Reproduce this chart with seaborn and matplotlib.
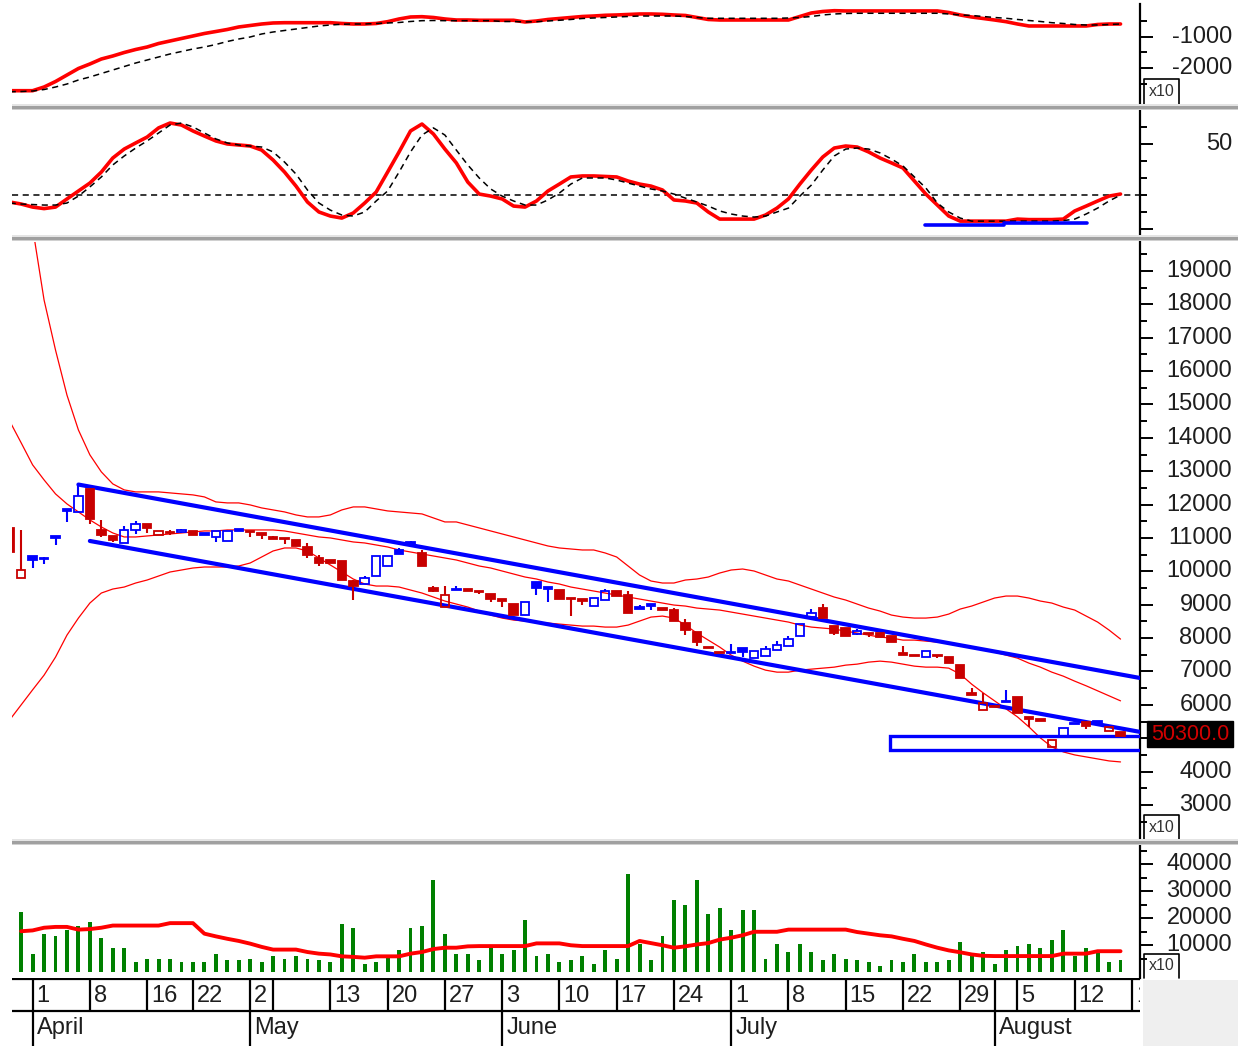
import numpy as np
import pandas as pd
import matplotlib
matplotlib.use("Agg")
import matplotlib.pyplot as plt
import matplotlib.transforms as mtrans
from matplotlib.patches import Rectangle
import seaborn as sns

# ---------------------------------------------------------------- data
day_index = list(range(-2, 96))          # trading-day index, 0 = 1 April

open_ = [11310, 9800, 10470, 10400, 11040, 11850, 11780, 12460, 11250, 11070,
         10840, 11250, 11420, 11090, 11180, 11190, 11220, 11120, 11040, 10910,
         11250, 11210, 11130, 10995, 10980, 10950, 10730, 10400, 10350, 10300,
         9700, 9630, 9870, 10150, 10650, 10850, 10550, 9500, 8930, 9460,
         9440, 9400, 9330, 9150, 9030, 8700, 9670, 9510, 9450, 9200,
         9160, 8970, 9150, 9400, 9300, 8910, 9000, 8900, 8830, 8450,
         8180, 7730, 7580, 7575, 7700, 7400, 7470, 7650, 7770, 8070,
         8630, 8900, 8350, 8300, 8130, 8150, 8150, 8050, 7530, 7490,
         7420, 7490, 7440, 7200, 6340, 5850, 5950, 6110, 6240, 5610,
         5560, 4740, 5030, 5450, 5490, 5490, 5220, 5200]
high_ = [11310, 11250, 10470, 10440, 11040, 11850, 12600, 12460, 11550, 11070,
         11360, 11510, 11420, 11210, 11250, 11260, 11220, 11120, 11210, 11210,
         11250, 11210, 11130, 11060, 10980, 10950, 10860, 10500, 10350, 10300,
         9750, 9850, 10450, 10470, 10700, 10920, 10650, 9550, 9570, 9560,
         9440, 9400, 9330, 9150, 9030, 9070, 9670, 9510, 9450, 9200,
         9160, 9200, 9470, 9400, 9400, 9000, 9000, 8900, 8900, 8560,
         8180, 7730, 7580, 7830, 7700, 7620, 7750, 7900, 8070, 8430,
         8870, 9030, 8350, 8300, 8260, 8150, 8150, 8050, 7750, 7490,
         7600, 7490, 7440, 7200, 6500, 6350, 5950, 6450, 6240, 5610,
         5560, 4950, 5310, 5450, 5490, 5490, 5340, 5200]
low_ = [10580, 9800, 10110, 10210, 10800, 11470, 11780, 11430, 11040, 10890,
        10840, 11130, 11160, 11090, 11100, 11150, 11090, 11110, 10890, 10910,
        11220, 11040, 10970, 10990, 10830, 10750, 10400, 10150, 10240, 9730,
        9150, 9630, 9870, 10150, 10530, 10830, 10150, 9380, 8930, 9450,
        9430, 9330, 9070, 8930, 8700, 8700, 9300, 9070, 9180, 8650,
        9000, 8970, 9150, 9270, 8750, 8900, 8830, 8840, 8500, 8100,
        7750, 7700, 7560, 7570, 7420, 7400, 7470, 7650, 7770, 8070,
        8630, 8600, 8100, 8050, 8100, 8030, 8040, 7870, 7510, 7470,
        7420, 7400, 7260, 6800, 6320, 5850, 5940, 6100, 5760, 5340,
        5540, 4740, 5030, 5420, 5280, 5430, 5220, 5060]
close_ = [10580, 10050, 10350, 10360, 11030, 11840, 12270, 11560, 11100, 10950,
          11250, 11430, 11290, 11210, 11150, 11220, 11100, 11110, 11210, 11210,
          11220, 11190, 11120, 10990, 10975, 10750, 10500, 10250, 10240, 9730,
          9570, 9800, 10450, 10470, 10530, 10840, 10150, 9420, 9300, 9450,
          9430, 9395, 9180, 9140, 8700, 9070, 9500, 9500, 9180, 9170,
          9100, 9200, 9400, 9270, 8750, 8900, 8990, 8840, 8500, 8250,
          7870, 7700, 7560, 7570, 7580, 7620, 7670, 7800, 7970, 8430,
          8750, 8600, 8150, 8050, 8200, 8140, 8040, 7870, 7510, 7470,
          7600, 7480, 7260, 6800, 6320, 6050, 5940, 6100, 5760, 5600,
          5540, 4950, 5310, 5420, 5370, 5480, 5340, 5060]

bb_index_upper = list(range(0, 96))
bb_upper = [20300, 18130, 16630, 15280, 14235, 13490, 12980, 12620, 12440, 12380,
            12380, 12380, 12350, 12320, 12290, 12230, 12080, 12050, 12050, 11990,
            11900, 11840, 11780, 11690, 11630, 11630, 11690, 11840, 11930, 11930,
            11870, 11810, 11780, 11750, 11720, 11600, 11480, 11480, 11390, 11300,
            11210, 11120, 11030, 10940, 10850, 10760, 10700, 10670, 10640, 10640,
            10550, 10430, 10160, 9890, 9710, 9650, 9650, 9740, 9770, 9830,
            9950, 10040, 10070, 10010, 9890, 9770, 9710, 9590, 9470, 9350,
            9230, 9140, 9020, 8900, 8810, 8690, 8630, 8600, 8600, 8630,
            8720, 8870, 8960, 9080, 9200, 9260, 9260, 9200, 9110, 9050,
            8930, 8840, 8660, 8480, 8240, 7970]
bb_mid = [14500, 13850, 13190, 12740, 12320, 12020, 11780, 11540, 11330, 11150,
          11030, 11030, 11060, 11090, 11120, 11150, 11180, 11210, 11210, 11240,
          11240, 11240, 11240, 11240, 11210, 11150, 11090, 11030, 11000, 10940,
          10880, 10850, 10790, 10730, 10640, 10580, 10520, 10460, 10400, 10340,
          10250, 10160, 10100, 10010, 9920, 9830, 9770, 9680, 9620, 9530,
          9470, 9410, 9350, 9290, 9230, 9170, 9110, 9050, 8990, 8960,
          8900, 8870, 8840, 8780, 8720, 8660, 8600, 8540, 8480, 8390,
          8330, 8300, 8270, 8210, 8150, 8090, 8030, 8000, 7940, 7940,
          7910, 7880, 7850, 7790, 7730, 7670, 7580, 7490, 7400, 7250,
          7130, 6980, 6860, 6710, 6570, 6420, 6270, 6120]
bb_lower = [5550, 6000, 6450, 6890, 7430, 8090, 8600, 9050, 9350, 9470,
            9530, 9650, 9740, 9860, 9980, 10040, 10100, 10130, 10130, 10130,
            10160, 10250, 10430, 10610, 10700, 10700, 10610, 10400, 10190, 9980,
            9770, 9620, 9560, 9560, 9530, 9440, 9350, 9230, 9110, 9020,
            8930, 8810, 8690, 8600, 8540, 8510, 8480, 8450, 8420, 8390,
            8360, 8360, 8330, 8330, 8390, 8510, 8630, 8660, 8600, 8390,
            8150, 7940, 7730, 7490, 7310, 7160, 7040, 6980, 6980, 7040,
            7070, 7100, 7130, 7190, 7220, 7280, 7310, 7280, 7220, 7160,
            7130, 7130, 7100, 6920, 6620, 6360, 6120, 5880, 5640, 5340,
            5010, 4740, 4590, 4500, 4440, 4380, 4320, 4290]

macd = [-2732, -2732, -2732, -2613, -2436, -2226, -2016, -1871, -1710, -1613,
        -1500, -1403, -1323, -1210, -1129, -1048, -968, -887, -823, -758,
        -677, -629, -581, -548, -539, -539, -539, -539, -539, -564,
        -581, -581, -564, -506, -419, -355, -345, -371, -419, -452,
        -452, -461, -461, -461, -461, -516, -484, -435, -403, -371,
        -339, -323, -300, -290, -274, -258, -258, -268, -290, -306,
        -371, -435, -452, -452, -452, -452, -452, -452, -452, -339,
        -226, -177, -152, -160, -160, -160, -160, -160, -160, -160,
        -160, -160, -210, -290, -355, -403, -452, -506, -581, -645,
        -645, -645, -645, -645, -645, -597, -581, -581]
macd_signal = [-2765, -2758, -2742, -2694, -2613, -2516, -2387, -2290, -2177, -2065,
               -1952, -1839, -1742, -1645, -1548, -1468, -1387, -1323, -1242, -1145,
               -1065, -1000, -903, -839, -790, -742, -694, -645, -613, -590,
               -581, -581, -564, -548, -532, -500, -474, -468, -474, -474,
               -474, -474, -474, -500, -500, -516, -506, -484, -461, -435,
               -403, -387, -371, -355, -339, -323, -323, -323, -323, -339,
               -371, -397, -397, -397, -397, -397, -397, -397, -387, -371,
               -339, -290, -258, -242, -235, -235, -235, -235, -235, -235,
               -235, -235, -258, -290, -306, -339, -371, -397, -435, -468,
               -500, -539, -564, -597, -613, -613, -597, -581]

stoch_k = [15.7, 14.5, 12.7, 11.8, 12.7, 17.5, 22.2, 26.9, 33.4, 41.7,
           47.0, 50.6, 54.1, 59.5, 62.4, 61.2, 57.7, 54.7, 51.8, 50.0,
           49.4, 48.8, 46.4, 40.5, 33.4, 25.1, 15.7, 9.8, 7.4, 6.2,
           9.2, 15.1, 21.6, 33.4, 45.3, 57.7, 61.8, 55.9, 47.0, 38.8,
           27.5, 20.4, 19.2, 17.5, 13.3, 12.7, 16.3, 22.2, 26.3, 30.5,
           31.1, 31.1, 30.8, 30.5, 28.1, 26.3, 25.1, 22.8, 16.9, 16.3,
           15.1, 9.8, 5.6, 5.6, 5.6, 5.6, 8.0, 12.1, 17.5, 26.3,
           34.6, 42.3, 47.6, 48.8, 48.2, 45.3, 41.7, 38.8, 35.8, 28.1,
           20.4, 13.9, 7.4, 4.4, 4.4, 4.4, 4.4, 4.4, 5.6, 5.3,
           5.3, 5.3, 5.6, 10.4, 13.3, 16.3, 19.2, 20.4]
stoch_d = [15.1, 14.5, 14.2, 13.9, 13.9, 15.1, 19.2, 24.6, 30.5, 37.6,
           42.9, 47.6, 51.8, 56.5, 61.2, 62.4, 60.1, 56.5, 53.0, 50.6,
           49.4, 48.8, 48.2, 45.3, 39.3, 32.2, 22.8, 15.1, 10.9, 8.0,
           7.4, 9.8, 16.3, 22.2, 33.4, 45.3, 55.3, 59.5, 55.3, 46.4,
           37.6, 29.9, 23.4, 19.2, 16.3, 13.9, 13.9, 16.9, 21.0, 26.3,
           29.9, 29.9, 29.9, 28.7, 26.9, 25.1, 23.4, 22.2, 20.4, 18.0,
           15.7, 13.3, 10.4, 8.6, 7.4, 6.8, 7.4, 9.8, 12.1, 19.2,
           25.7, 34.6, 42.9, 47.0, 47.6, 47.0, 44.7, 41.1, 37.0, 30.5,
           24.0, 15.1, 9.8, 6.2, 4.4, 4.4, 4.4, 4.4, 4.4, 4.4,
           4.4, 4.4, 4.7, 5.6, 8.6, 12.1, 16.3, 19.8]
stoch_level = 20

vol_index = list(range(-1, 96))
volume = [22100, 6500, 14000, 13200, 15400, 16900, 18500, 12500, 8800, 8800,
          3600, 5000, 5000, 5000, 3600, 3600, 3600, 6500, 4300, 4300,
          5000, 3600, 5800, 5000, 5800, 5000, 4300, 3600, 17700, 16200,
          2800, 3600, 5300, 8300, 16300, 16900, 34000, 14000, 6500, 6500,
          4300, 9000, 6500, 8300, 19100, 5800, 6500, 3600, 4300, 5800,
          2800, 8000, 5000, 36200, 10200, 4300, 13200, 26500, 25000, 34000,
          21400, 23600, 15400, 22800, 22800, 5000, 10200, 7300, 10200, 7300,
          4300, 6500, 5000, 4300, 3600, 2100, 4300, 3600, 6500, 3600,
          3600, 4300, 11000, 5800, 7300, 2800, 8000, 9500, 10200, 8800,
          11700, 15400, 5800, 8800, 8000, 3600, 4300]
volume_ma = [15100, 15400, 16400, 16700, 16700, 15700, 15900, 16400, 17200, 17200,
             17200, 17200, 17200, 18100, 18100, 18100, 14200, 13200, 12300, 11500,
             10500, 9300, 8300, 8300, 8300, 7400, 6800, 6500, 5800, 5600,
             5300, 5800, 5800, 5800, 6800, 7400, 8500, 9000, 9000, 9500,
             9600, 9600, 9600, 9600, 9600, 10600, 10600, 10600, 9900, 9600,
             9600, 9600, 9600, 9600, 11500, 10700, 9900, 9000, 9500, 10200,
             10700, 12000, 12700, 13600, 14900, 14900, 14900, 15700, 15700, 15700,
             15700, 15700, 15700, 14800, 14200, 13600, 13200, 12300, 11500, 10200,
             9000, 8000, 7300, 6500, 6000, 5900, 5900, 5900, 5900, 5900,
             5900, 6800, 6800, 6800, 7700, 7700, 7700]

channel_upper = ([4, 96.7], [12600, 6805])
channel_lower = ([5, 96.7], [10910, 5190])
support_box = (74.85, 97.5, 4650, 5070)         # x from, x to, price low, price high
stoch_support = [([77.9, 84.8], [2.2, 2.2]), ([84.8, 92.1], [3.4, 3.4])]

week_ticks = [0, 5, 10, 14, 19, 21, 26, 31, 36, 41, 46, 51, 56, 61, 66, 71, 76, 81, 84, 86, 91, 96]
week_labels = ['1', '8', '16', '22', '2', '', '13', '20', '27', '3', '10', '17', '24',
               '1', '8', '15', '22', '29', '', '5', '12', '19']
month_ticks = [0, 19, 41, 61, 84]
month_labels = ['April', 'May', 'June', 'July', 'August']

price_major = list(range(3000, 20000, 1000))
price_minor = list(range(2500, 20000, 1000))
price_hidden = [5000]                            # label covered by the last-price tag
macd_major = [-2000, -1000]
macd_minor = [-2500, -1500, -500]
stoch_major = [0, 50]
stoch_minor = [10, 20, 30, 40, 60]
vol_major = [10000, 20000, 30000, 40000]
vol_minor = [5000, 15000, 25000, 35000, 45000]
last_price_text = '50300.0'
scale_text = 'x10'

# ---------------------------------------------------------------- style
sns.set_theme(style="white")
plt.rcParams['font.family'] = ['Liberation Sans', 'DejaVu Sans']

RED = '#ff0000'
CRED = '#c80000'
BLUE = '#0000ff'
GREEN = '#008000'
TXT = '#1e1e1e'
LBL_FS = 17

W, H = 1238, 1046
fig = plt.figure(figsize=(W / 100, H / 100), dpi=100)
fig.patch.set_facecolor('white')

X_LEFT, X_RIGHT = 12, 1140
XLIM = (-1.8, 96.7)


def px_axes(y0, y1):
    return fig.add_axes([X_LEFT / W, 1 - y1 / H, (X_RIGHT - X_LEFT) / W, (y1 - y0) / H])


def style_axis(ax, ylim, majors, minors, labels):
    ax.set_xlim(*XLIM)
    ax.set_ylim(*ylim)
    ax.set_facecolor('white')
    for s in ['left', 'top', 'bottom']:
        ax.spines[s].set_visible(False)
    ax.spines['right'].set_visible(True)
    ax.spines['right'].set_color('black')
    ax.spines['right'].set_linewidth(1.6)
    ax.set_xticks([])
    ax.set_xlabel('')
    ax.set_ylabel('')
    ax.yaxis.set_ticks_position('right')
    ax.set_yticks(majors)
    ax.set_yticks(minors, minor=True)
    ax.tick_params(axis='y', which='both', right=True, left=False, labelright=False,
                   labelleft=False, direction='out', color='black', width=1.4)
    ax.tick_params(axis='y', which='major', length=9)
    ax.tick_params(axis='y', which='minor', length=5)
    tr = mtrans.blended_transform_factory(fig.transFigure, ax.transData)
    for v, t in zip(majors, labels):
        if t:
            ax.text(1232 / W, v, t, transform=tr, ha='right', va='center',
                    fontsize=LBL_FS, color=TXT, clip_on=False)


def line(ax, x, y, **kw):
    sns.lineplot(x=x, y=y, ax=ax, estimator=None, sort=False, legend=False, **kw)


def scale_box(y0, y1):
    fig.add_artist(plt.Line2D([1144 / W, 1144 / W, 1179 / W, 1179 / W],
                              [1 - y1 / H, 1 - y0 / H, 1 - y0 / H, 1 - y1 / H],
                              color='black', lw=1.2, zorder=6))
    fig.text(1161.5 / W, 1 - (y0 + y1) / 2 / H, scale_text, ha='center', va='center',
             fontsize=11.5, color='#333333', zorder=7)


def separator(y):
    fig.add_artist(Rectangle((X_LEFT / W, 1 - (y + 2) / H), 1 - X_LEFT / W, 2 / H,
                             facecolor='#e4e4e4', edgecolor='none', zorder=6))
    fig.add_artist(Rectangle((X_LEFT / W, 1 - (y + 5) / H), 1 - X_LEFT / W, 3 / H,
                             facecolor='#a0a0a0', edgecolor='none', zorder=6))
    fig.add_artist(Rectangle((X_LEFT / W, 1 - (y + 6) / H), 1 - X_LEFT / W, 1 / H,
                             facecolor='#d0d0d0', edgecolor='none', zorder=6))


# ---------------------------------------------------------------- panel 1 : MACD
ax1 = px_axes(4, 104)
line(ax1, day_index, macd, color=RED, linewidth=2.6, zorder=3)
line(ax1, day_index, macd_signal, color='black', linewidth=1.1, linestyle=(0, (4, 3)), zorder=4)
style_axis(ax1, (-3161, 64), macd_major, macd_minor, ['-2000', '-1000'])
scale_box(79, 104)

# ---------------------------------------------------------------- panel 2 : stochastic
ax2 = px_axes(111, 236)
ax2.axhline(stoch_level, color='black', linewidth=1.1, linestyle=(0, (4, 3)), zorder=2)
line(ax2, day_index, stoch_k, color=RED, linewidth=2.6, zorder=3)
line(ax2, day_index, stoch_d, color='black', linewidth=1.1, linestyle=(0, (4, 3)), zorder=4)
for xs, ys in stoch_support:
    line(ax2, xs, ys, color=BLUE, linewidth=2.6, zorder=5)
style_axis(ax2, (-4.4, 69.5), stoch_major, stoch_minor, ['', '50'])

# ---------------------------------------------------------------- panel 3 : price
ax3 = px_axes(242, 839)
line(ax3, bb_index_upper, bb_upper, color=RED, linewidth=0.9, zorder=2)
line(ax3, day_index, bb_mid, color=RED, linewidth=0.9, zorder=2)
line(ax3, day_index, bb_lower, color=RED, linewidth=0.9, zorder=2)
line(ax3, channel_upper[0], channel_upper[1], color=BLUE, linewidth=3.0, zorder=3)
line(ax3, channel_lower[0], channel_lower[1], color=BLUE, linewidth=3.0, zorder=3)
ax3.add_patch(Rectangle((support_box[0], support_box[2]), support_box[1] - support_box[0],
                        support_box[3] - support_box[2], facecolor='none', edgecolor=BLUE,
                        linewidth=2.4, zorder=3))

body_w = 0.74
min_body = 45
prev = None
for i, o, h, l, c in zip(day_index, open_, high_, low_, close_):
    ref = o if prev is None else prev
    col = BLUE if c >= ref else CRED
    lo, hi = min(o, c), max(o, c)
    if hi - lo < min_body:
        mid = (hi + lo) / 2
        lo, hi = mid - min_body / 2, mid + min_body / 2
    if l < lo:
        ax3.vlines(i, l, lo, color=col, linewidth=1.5, zorder=4)
    if h > hi:
        ax3.vlines(i, hi, h, color=col, linewidth=1.5, zorder=4)
    filled = c < o
    ax3.add_patch(Rectangle((i - body_w / 2, lo), body_w, hi - lo,
                            facecolor=col if filled else 'none', edgecolor=col,
                            linewidth=1.3, zorder=5))
    prev = c

style_axis(ax3, (1981, 19867), price_major, price_minor,
           ['' if v in price_hidden else str(v) for v in price_major])
scale_box(815, 839)

# last price tag
fig.add_artist(Rectangle((1147 / W, 1 - 747 / H), 86 / W, 26 / H, facecolor='black',
                         edgecolor='black', zorder=8))
fig.text(1190 / W, 1 - 734 / H, last_price_text, ha='center', va='center', fontsize=15.5,
         color='#d00000', zorder=9)

# ---------------------------------------------------------------- panel 4 : volume
ax4 = px_axes(846, 978)
ax4.bar(vol_index, volume, width=0.34, color=GREEN, linewidth=0, zorder=2)
line(ax4, vol_index, volume_ma, color=RED, linewidth=2.8, zorder=3)
style_axis(ax4, (-2222, 46667), vol_major, vol_minor, [str(v) for v in vol_major])
scale_box(954, 978)

# ---------------------------------------------------------------- date rows
axd = fig.add_axes([X_LEFT / W, 0, (X_RIGHT - X_LEFT) / W, (1046 - 978) / H])
axd.set_xlim(*XLIM)
axd.set_ylim(1046, 978)
axd.axis('off')
axd.hlines([979, 1011], XLIM[0], XLIM[1], color='black', linewidth=1.6)
axd.vlines(week_ticks, 979, 1011, color='black', linewidth=1.6)
axd.vlines(month_ticks, 1011, 1046, color='black', linewidth=1.6)
off = mtrans.offset_copy(axd.transData, fig=fig, x=4, y=0, units='dots')
for t, s in zip(week_ticks, week_labels):
    if s:
        axd.text(t, 996, s, transform=off, ha='left', va='center', fontsize=LBL_FS,
                 color=TXT, clip_on=True)
for t, s in zip(month_ticks, month_labels):
    axd.text(t, 1028, s, transform=off, ha='left', va='center', fontsize=LBL_FS,
             color=TXT, clip_on=True)

# grey corner + separators
fig.add_artist(Rectangle((1143 / W, 0), (W - 1143) / W, (1046 - 980) / H,
                         facecolor='#efefef', edgecolor='none', zorder=1))
separator(104)
separator(235)
separator(839)

fig.savefig('out.png', dpi=100)
